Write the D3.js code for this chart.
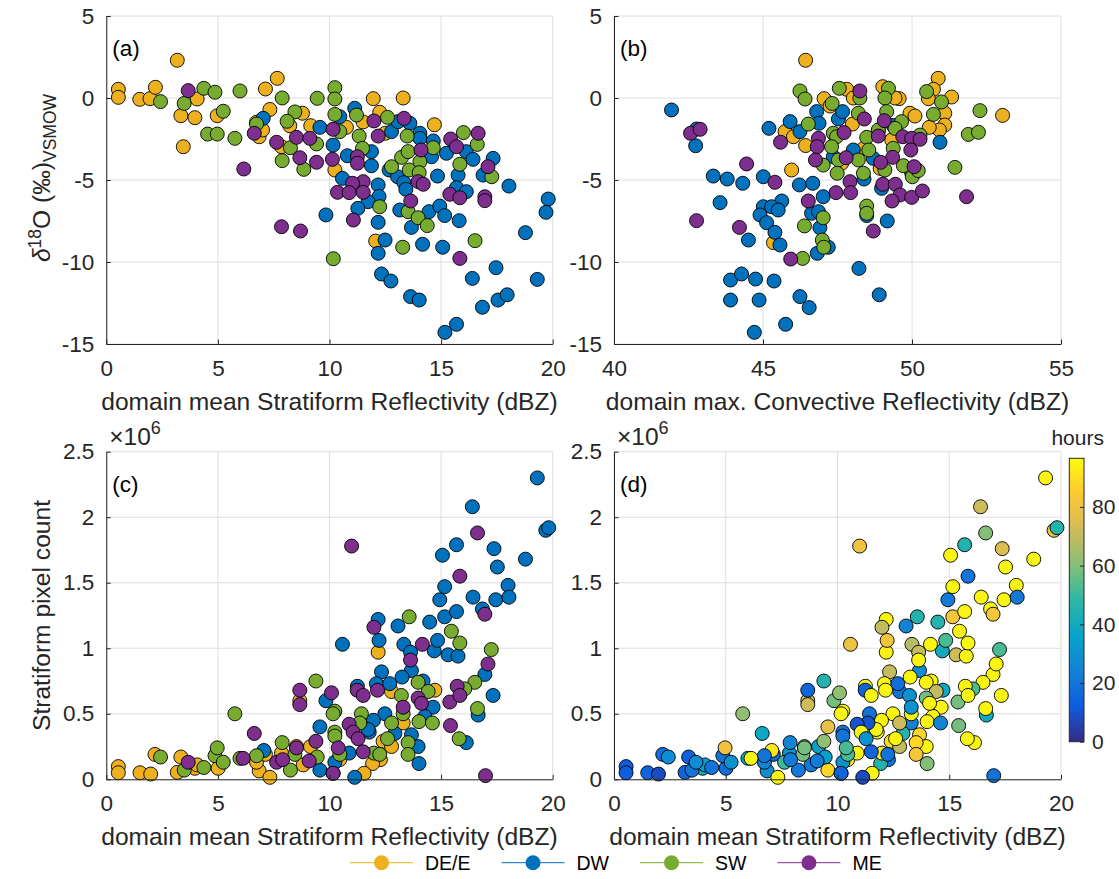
<!DOCTYPE html>
<html>
<head>
<meta charset="utf-8">
<script src="https://cdn.jsdelivr.net/npm/d3@7"></script>
<style>
  body { margin: 0; background: #fff; }
  svg { font-family: "Liberation Sans", Arial, Helvetica, sans-serif; }
</style>
</head>
<body>
<div id="fig"></div>
<script>
const W = 1119, H = 879;

// groups and their colours (MATLAB default order)
const groups = ['DE/E', 'DW', 'SW', 'ME'];
const groupColors = ['#EDB120', '#0072BD', '#77AC30', '#7E2F8E'];

// (a) stratiform reflectivity (dBZ) vs d18O
const aDEE = [[0.54,0.53],[0.54,0.04],[1.5,-0.08],[1.96,-0.04],[2.2,0.65],[3.18,2.3],[3.34,-1.08],[3.97,-1.2],[3.45,-2.97],[4.07,-0.06],[4.97,-1.08],[7.13,0.55],[7.66,1.2],[7.33,-0.7],[6.73,-1.48],[6.85,-2.36],[7.0,-1.95],[8.79,-0.93],[9.16,-1.69],[10.76,-1.79],[10.24,-4.39],[11.96,-0.04],[12.25,-0.87],[11.5,-1.46],[12.07,-8.72],[13.3,0.0],[14.7,-1.63],[8.22,-1.69],[7.85,-2.97],[12.5,-2.15]];
const aDW = [[7.03,-1.24],[9.57,-1.79],[10.16,-2.87],[10.46,-1.14],[11.13,-0.63],[10.8,-3.52],[11.88,-3.27],[11.88,-4.13],[10.58,-4.9],[12.78,-2.05],[13.07,-1.44],[13.6,-1.54],[14.05,-2.15],[14.05,-2.46],[14.65,-2.62],[14.57,-3.58],[15.24,-3.37],[16.13,-3.27],[16.43,-3.74],[17.33,-3.68],[16.88,-4.7],[12.67,-4.39],[13.05,-4.8],[13.33,-5.16],[13.42,-5.57],[14.84,-4.76],[15.76,-4.7],[15.69,-5.47],[12.18,-5.3],[12.22,-6.0],[11.73,-6.32],[11.27,-6.73],[9.84,-7.13],[12.18,-7.58],[13.15,-6.83],[14.46,-6.93],[14.94,-6.59],[15.16,-7.17],[13.67,-7.89],[15.81,-7.48],[18.04,-5.37],[19.8,-6.16],[19.7,-6.97],[18.78,-8.21],[12.49,-8.66],[12.18,-9.47],[14.17,-8.92],[15.07,-9.1],[12.33,-10.73],[12.75,-11.16],[13.63,-12.11],[14.02,-12.32],[16.4,-11.0],[17.46,-10.35],[16.85,-12.76],[17.55,-12.32],[17.96,-12.0],[19.31,-11.06],[15.17,-14.29],[15.69,-13.8],[16.13,-5.71]];
const aSW = [[2.43,-0.22],[3.49,-0.33],[4.37,0.59],[4.87,0.35],[5.99,0.43],[5.24,-0.81],[4.54,-2.2],[4.97,-2.2],[5.76,-2.46],[7.88,0.0],[8.45,-0.85],[8.1,-1.42],[6.73,-1.59],[8.25,-3.03],[7.88,-3.82],[8.85,-4.35],[9.45,-0.02],[10.24,0.63],[10.24,-0.06],[10.24,-1.0],[9.42,-2.8],[11.21,-1.04],[11.33,-2.32],[11.48,-3.07],[12.6,-1.18],[13.48,-2.32],[13.23,-3.62],[13.52,-3.27],[14.05,-3.88],[12.78,-4.19],[13.57,-4.39],[14.02,-4.55],[14.65,-3.03],[16.0,-2.11],[16.62,-2.83],[15.84,-4.04],[17.27,-4.8],[12.25,-6.63],[13.52,-6.93],[13.97,-7.3],[14.38,-7.78],[13.28,-9.1],[16.52,-8.7],[10.17,-9.8],[10.46,-2.05]];
const aME = [[3.67,0.45],[6.63,-2.15],[6.16,-4.33],[7.63,-2.7],[8.52,-2.4],[9.12,-2.46],[8.67,-3.64],[9.42,-3.92],[10.16,-1.91],[10.13,-3.74],[11.25,-3.58],[11.25,-3.98],[11.99,-1.4],[12.18,-2.32],[13.34,-1.24],[14.1,-3.17],[13.97,-5.1],[14.2,-5.26],[13.64,-6.28],[11.51,-5.1],[11.03,-5.2],[10.36,-5.75],[10.88,-5.77],[11.51,-5.75],[11.07,-7.44],[7.85,-7.85],[8.7,-8.11],[15.43,-2.5],[15.69,-2.97],[16.66,-2.15],[17.1,-4.19],[15.39,-5.87],[15.84,-6.08],[16.96,-6.02],[16.96,-6.26],[15.84,-9.78]];

// (b) max convective reflectivity (dBZ) vs d18O
const bDEE = [[46.43,2.3],[47.81,0.53],[47.05,-0.04],[47.25,-0.49],[48.03,0.0],[49.02,0.69],[49.57,-0.04],[49.93,-0.93],[50.1,-1.1],[50.88,1.2],[50.72,0.53],[50.55,-0.04],[51.33,0.06],[51.1,-0.93],[51.1,-1.65],[50.92,-1.95],[50.58,-1.79],[53.04,-1.06],[45.74,-2.05],[46.02,-2.36],[46.43,-2.9],[45.96,-4.39],[48.0,-1.59],[48.37,-3.09],[48.87,-1.99],[49.32,-2.56],[47.64,-3.98],[48.93,-4.29],[45.35,-8.82],[49.43,0.0]];
const bDW = [[41.93,-0.73],[42.77,-1.89],[42.74,-2.91],[43.33,-4.76],[43.8,-4.94],[44.32,-5.2],[45.01,-4.8],[43.56,-6.38],[45.2,-1.85],[45.91,-1.44],[46.24,-2.05],[46.8,-0.83],[46.88,-1.54],[47.53,-1.28],[47.67,-0.83],[46.22,-5.3],[46.67,-5.2],[47.02,-6.02],[45.63,-6.28],[45.01,-6.63],[45.29,-6.63],[45.51,-6.83],[44.9,-7.13],[45.12,-7.6],[45.4,-8.19],[45.57,-8.96],[46.63,-7.03],[46.86,-6.93],[46.91,-7.91],[46.82,-9.47],[47.19,-9.1],[44.51,-8.66],[43.91,-11.1],[44.28,-10.73],[44.75,-11.04],[45.37,-11.16],[43.91,-12.32],[44.87,-12.32],[46.24,-12.11],[46.55,-12.78],[45.76,-13.8],[44.71,-14.29],[48.22,-10.39],[48.9,-12.0],[49.17,-7.5],[48.98,-5.51],[48.39,-4.94],[50.94,-2.7],[49.99,-4.59],[49.37,-1.67],[48.7,-3.68],[47.36,-3.58],[48.03,-3.17],[48.48,-7.17]];
const bSW = [[46.24,0.43],[46.41,-0.06],[47.56,0.59],[47.32,-0.33],[48.25,0.0],[49.21,0.59],[49.09,0.0],[49.15,-0.83],[48.2,-0.93],[46.52,-1.59],[47.36,-2.15],[47.47,-2.36],[47.3,-2.97],[47.53,-3.78],[47.49,-4.59],[47.02,-4.09],[48.2,-3.78],[48.37,-4.59],[48.48,-2.4],[48.55,-3.17],[48.87,-1.95],[49.37,-3.07],[49.65,-1.44],[49.71,-4.13],[50.01,-4.8],[50.21,-4.43],[50.27,-2.26],[49.09,-4.39],[50.49,0.39],[50.99,-0.24],[50.72,-1.0],[52.28,-0.77],[51.89,-2.22],[52.23,-2.09],[51.44,-4.23],[48.48,-6.59],[48.48,-7.03],[47.02,-7.3],[46.99,-8.66],[47.04,-9.1],[46.39,-7.8],[46.33,-9.78],[49.43,-1.85]];
const bME = [[42.57,-2.15],[42.89,-1.91],[44.45,-4.02],[45.4,-5.14],[42.77,-7.48],[44.21,-7.89],[45.59,-2.7],[48.25,0.43],[48.4,-1.28],[49.07,-1.38],[46.86,-2.46],[46.82,-2.97],[47.72,-2.11],[47.79,-3.64],[46.76,-3.78],[48.87,-2.32],[49.69,-2.36],[49.99,-2.46],[50.27,-2.52],[49.96,-3.17],[49.35,-3.62],[48.95,-3.92],[50.07,-4.19],[47.92,-5.1],[47.45,-5.77],[47.94,-5.77],[49.02,-5.26],[49.44,-5.26],[49.6,-5.91],[49.33,-6.28],[49.99,-6.06],[50.35,-5.67],[46.52,-6.28],[48.7,-8.11],[45.93,-9.82],[51.83,-6.02]];

// (c),(d) stratiform reflectivity (dBZ), stratiform pixel count (x1e6), hours
const cDEE = [[0.54,0.097,12],[0.54,0.05,12],[1.51,0.05,15],[1.99,0.04,8],[2.18,0.19,18],[3.18,0.053,15],[3.34,0.17,14],[3.97,0.084,42],[4.07,0.11,35],[5.01,0.084,18],[6.85,0.064,28],[7.33,0.015,95],[6.73,0.13,25],[7.13,0.19,15],[8.82,0.11,22],[9.15,0.25,35],[8.67,0.6,72],[12.18,0.97,94],[12.78,0.67,20],[12.4,0.29,90],[12.78,0.25,70],[12.28,0.15,20],[11.93,0.12,45],[11.55,0.046,95],[13.3,0.43,25],[14.72,0.68,38],[10.46,0.15,92],[7.85,0.2,30],[8.52,0.25,58]];
const cDW = [[7.06,0.22,92],[9.57,0.4,78],[9.57,0.07,88],[10.16,0.046,15],[10.24,0.13,30],[9.84,0.6,58],[10.58,1.03,80],[10.88,0.2,95],[11.13,0.015,8],[11.25,0.71,95],[12.18,1.22,95],[12.22,1.06,82],[12.33,0.82,70],[12.1,0.73,95],[12.7,0.73,18],[12.48,0.5,95],[11.97,0.45,95],[11.78,0.36,95],[13.07,1.17,25],[13.33,1.03,68],[13.63,0.97,70],[13.67,0.83,28],[13.25,0.78,95],[14.19,0.75,95],[14.64,0.55,95],[14.27,0.48,95],[13.67,0.34,88],[13.97,0.25,95],[14.01,0.12,60],[14.49,1.2,45],[14.69,0.98,40],[14.84,1.06,52],[15.31,0.95,72],[15.76,0.94,95],[15.16,1.24,82],[14.94,1.37,22],[15.16,1.47,95],[15.06,1.71,95],[15.69,1.79,45],[15.69,1.28,95],[16.4,2.08,72],[16.43,1.39,95],[16.85,1.3,95],[16.96,0.8,95],[17.33,0.64,95],[16.66,0.49,40],[16.13,0.28,95],[17.37,1.76,75],[17.52,1.62,95],[17.45,1.37,95],[18.0,1.48,95],[18.04,1.39,22],[18.78,1.68,95],[19.31,2.3,95],[19.69,1.9,80],[19.82,1.92,45],[11.73,0.38,95],[12.93,0.35,45]];
const cSW = [[2.43,0.17,28],[3.49,0.07,20],[4.37,0.09,20],[4.87,0.18,20],[4.97,0.24,80],[5.24,0.13,30],[5.76,0.5,62],[5.99,0.16,38],[6.73,0.18,20],[7.88,0.28,25],[8.25,0.07,22],[8.45,0.19,58],[9.39,0.75,45],[9.45,0.17,35],[10.24,0.52,95],[10.16,0.5,95],[10.24,0.36,20],[10.24,0.33,20],[10.46,0.19,52],[11.43,0.5,20],[11.36,0.43,10],[11.99,0.2,92],[12.6,0.31,95],[12.78,0.43,72],[13.22,0.64,30],[13.3,0.5,95],[13.52,0.28,88],[13.52,0.19,82],[13.57,1.24,45],[13.97,0.74,95],[14.01,0.44,95],[14.42,0.67,70],[14.61,0.43,25],[15.46,1.13,95],[15.84,1.04,95],[15.81,0.31,95],[16.51,0.74,95],[16.63,0.54,95],[17.25,0.99,52],[16.06,0.69,52],[12.25,0.19,20]];
const cME = [[3.67,0.13,28],[6.13,0.16,95],[6.63,0.35,38],[7.63,0.13,50],[7.9,0.15,22],[8.52,0.24,58],[9.09,0.14,22],[8.67,0.68,15],[8.67,0.57,72],[9.39,0.29,62],[10.09,0.66,62],[10.16,0.046,15],[10.39,0.24,52],[10.88,0.42,10],[11.06,0.36,95],[11.28,0.31,30],[11.24,0.68,15],[11.51,0.64,95],[11.51,0.21,15],[10.99,1.78,80],[11.99,1.16,70],[12.15,0.68,95],[13.3,0.55,30],[13.63,0.91,95],[14.16,1.03,95],[13.97,0.62,58],[14.12,0.58,95],[15.42,0.41,58],[15.39,0.59,58],[15.72,0.71,95],[15.84,0.64,95],[15.84,1.55,20],[16.63,1.88,60],[16.96,1.26,82],[17.1,0.88,95],[16.99,0.028,20]];

// hours colour bar
const hoursMax = 96.56;
const hoursTicks = [0, 20, 40, 60, 80];
const parulaStops = ['#352a87', '#0f5cdd', '#1481d6', '#06a4ca', '#2eb7a4', '#87bf77', '#d1bb59', '#fec832', '#f9fb0e'];

const TICK_FONT = 22.5, CB_FONT = 21, LABEL_FONT = 24.6, AXIS_COL = '#262626', GRID_COL = '#dedede';

const svg = d3.select('#fig').append('svg')
  .attr('width', W).attr('height', H);

const parula = d3.scaleLinear()
  .domain(parulaStops.map((d, i) => i / (parulaStops.length - 1) * hoursMax))
  .range(parulaStops)
  .clamp(true);

const panels = [
  { tag: '(a)', x0: 106.3, x1: 552.7, y0: 16, y1: 344, xd: [0, 20], yd: [-15, 5],
    xt: [0, 5, 10, 15, 20], yt: [-15, -10, -5, 0, 5],
    xlab: 'domain mean Stratiform Reflectivity (dBZ)', sets: [aDEE, aDW, aSW, aME] },
  { tag: '(b)', x0: 614, x1: 1061, y0: 16, y1: 344, xd: [40, 55], yd: [-15, 5],
    xt: [40, 45, 50, 55], yt: [-15, -10, -5, 0, 5],
    xlab: 'domain max. Convective Reflectivity (dBZ)', sets: [bDEE, bDW, bSW, bME] },
  { tag: '(c)', x0: 106.3, x1: 552.7, y0: 451.7, y1: 779.3, xd: [0, 20], yd: [0, 2.5],
    xt: [0, 5, 10, 15, 20], yt: [0, 0.5, 1, 1.5, 2, 2.5], exp: true,
    xlab: 'domain mean Stratiform Reflectivity (dBZ)', sets: [cDEE, cDW, cSW, cME] },
  { tag: '(d)', x0: 614, x1: 1061, y0: 451.7, y1: 779.3, xd: [0, 20], yd: [0, 2.5],
    xt: [0, 5, 10, 15, 20], yt: [0, 0.5, 1, 1.5, 2, 2.5], exp: true, byHours: true,
    xlab: 'domain mean Stratiform Reflectivity (dBZ)', sets: [cDEE, cDW, cSW, cME] }
];

function styleAxis(g, size) {
  g.attr('font-size', size || TICK_FONT).attr('font-family', null);
  g.selectAll('.domain').attr('stroke', AXIS_COL);
  g.selectAll('.tick line').attr('stroke', AXIS_COL);
  g.selectAll('.tick text').attr('fill', AXIS_COL);
}

panels.forEach(p => {
  const g = svg.append('g');
  const x = d3.scaleLinear().domain(p.xd).range([p.x0, p.x1]);
  const y = d3.scaleLinear().domain(p.yd).range([p.y1, p.y0]);

  // grid
  g.append('g').selectAll('line').data(p.xt).join('line')
    .attr('x1', d => x(d)).attr('x2', d => x(d))
    .attr('y1', p.y0).attr('y2', p.y1)
    .attr('stroke', GRID_COL).attr('stroke-width', 1);
  g.append('g').selectAll('line').data(p.yt).join('line')
    .attr('x1', p.x0).attr('x2', p.x1)
    .attr('y1', d => y(d)).attr('y2', d => y(d))
    .attr('stroke', GRID_COL).attr('stroke-width', 1);

  // points
  const pts = g.append('g');
  p.sets.forEach((set, gi) => {
    pts.selectAll(null).data(set).join('circle')
      .attr('cx', d => x(d[0]))
      .attr('cy', d => y(d[1]))
      .attr('r', 7)
      .attr('fill', d => p.byHours ? parula(d[2]) : groupColors[gi])
      .attr('stroke', '#000')
      .attr('stroke-width', 0.9);
  });

  // axes (ticks point inward)
  g.append('g')
    .attr('transform', `translate(0,${p.y1})`)
    .call(d3.axisBottom(x).tickValues(p.xt).tickSizeInner(-4.5).tickSizeOuter(0)
      .tickPadding(16).tickFormat(d => String(d)))
    .call(styleAxis);
  g.append('g')
    .attr('transform', `translate(${p.x0},0)`)
    .call(d3.axisLeft(y).tickValues(p.yt).tickSizeInner(-4.5).tickSizeOuter(0)
      .tickPadding(12).tickFormat(d => String(d)))
    .call(styleAxis);

  // panel tag
  g.append('text')
    .attr('x', p.x0 + 6).attr('y', p.y0 + 40)
    .attr('font-size', 22.5).attr('fill', '#000')
    .text(p.tag);

  // x label
  g.append('text')
    .attr('x', (p.x0 + p.x1) / 2).attr('y', p.y1 + 66)
    .attr('text-anchor', 'middle')
    .attr('font-size', LABEL_FONT).attr('fill', AXIS_COL)
    .text(p.xlab);

  // x10^6 exponent
  if (p.exp) {
    const t = g.append('text')
      .attr('x', p.x0 + 3).attr('y', p.y0 - 7)
      .attr('font-size', 24.5).attr('fill', AXIS_COL);
    t.append('tspan').text('\u00d710');
    t.append('tspan').attr('font-size', 18).attr('dy', -11).text('6');
  }
});

// y labels
const yl1 = svg.append('text')
  .attr('transform', 'translate(50,178) rotate(-90)')
  .attr('text-anchor', 'middle')
  .attr('font-size', LABEL_FONT).attr('fill', AXIS_COL);
yl1.append('tspan').attr('font-style', 'italic').text('\u03b4');
yl1.append('tspan').attr('font-size', 17.5).attr('dy', -9).text('18');
yl1.append('tspan').attr('dy', 9).text('O (\u2030)');
yl1.append('tspan').attr('font-size', 17.5).attr('dy', 6).text('VSMOW');

svg.append('text')
  .attr('transform', 'translate(50,615.5) rotate(-90)')
  .attr('text-anchor', 'middle')
  .attr('font-size', LABEL_FONT).attr('fill', AXIS_COL)
  .text('Stratiform pixel count');

// colour bar
const cbX = 1069.3, cbW = 14.7, cbTop = 458.3, cbBot = 741.7;
const grad = svg.append('defs').append('linearGradient')
  .attr('id', 'parula').attr('x1', 0).attr('y1', 1).attr('x2', 0).attr('y2', 0);
grad.selectAll('stop').data(parulaStops).join('stop')
  .attr('offset', (d, i) => i / (parulaStops.length - 1))
  .attr('stop-color', d => d);
svg.append('rect')
  .attr('x', cbX).attr('y', cbTop).attr('width', cbW).attr('height', cbBot - cbTop)
  .attr('fill', 'url(#parula)').attr('stroke', AXIS_COL).attr('stroke-width', 1);
const cy = d3.scaleLinear().domain([0, hoursMax]).range([cbBot, cbTop]);
svg.append('g')
  .attr('transform', `translate(${cbX + cbW},0)`)
  .call(d3.axisRight(cy).tickValues(hoursTicks).tickSizeInner(-4).tickSizeOuter(0)
    .tickPadding(8).tickFormat(d => String(d)))
  .call(styleAxis, CB_FONT)
  .call(g => g.select('.domain').remove());
svg.append('text')
  .attr('x', cbX + cbW / 2 + 1).attr('y', 445)
  .attr('text-anchor', 'middle')
  .attr('font-size', CB_FONT).attr('fill', AXIS_COL)
  .text('hours');

// legend
const legY = 862.7;
let lx = 350;
groups.forEach((name, i) => {
  const lg = svg.append('g');
  lg.append('line')
    .attr('x1', lx).attr('x2', lx + 63).attr('y1', legY).attr('y2', legY)
    .attr('stroke', groupColors[i]).attr('stroke-width', 1);
  lg.append('circle')
    .attr('cx', lx + 31.5).attr('cy', legY).attr('r', 7.5)
    .attr('fill', groupColors[i]);
  const t = lg.append('text')
    .attr('x', lx + 75).attr('y', legY + 7)
    .attr('font-size', 19.5).attr('fill', '#000')
    .text(name);
  lx = lx + 75 + t.node().getComputedTextLength() + 31;
});
</script>
</body>
</html>
